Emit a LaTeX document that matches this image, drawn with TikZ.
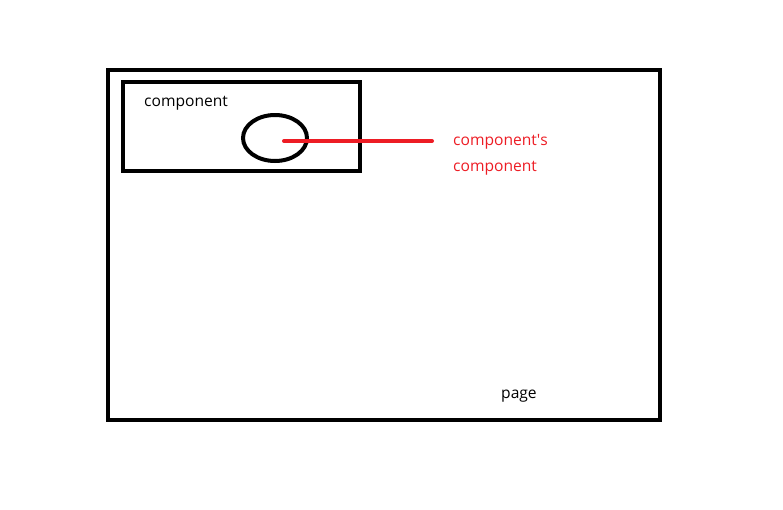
\documentclass[tikz,border=0pt]{standalone}
\usepackage{fontspec}
\setsansfont{Open Sans}
\usepackage{tikz}
\usetikzlibrary{shapes.geometric}
\definecolor{paintred}{HTML}{ED1C24}

\begin{document}
\begin{tikzpicture}[
  x=1pt, y=-1pt,
  font=\sffamily\fontsize{15.6}{26}\selectfont,
  frame/.style={rectangle, draw=black, line width=4pt, inner sep=0pt},
  blob/.style={ellipse, draw=black, line width=4pt, inner sep=0pt,
               minimum width=64pt, minimum height=46pt},
  lbl/.style={anchor=base west, inner sep=0pt, align=left},
  lead/.style={draw=paintred, line width=4pt, line cap=round}]
  \useasboundingbox (0,0) rectangle (783,509);
  \node[frame, minimum width=552.5pt, minimum height=350.5pt] (page) at (383.75,244.75) {};
  \node[frame, minimum width=236.5pt, minimum height=89pt] (comp) at (241.25,126) {};
  \node[blob] (sub) at (275,138) {};
  \node[lbl] (comptext) at (144,106.5) {component};
  \node[lbl] (pagetext) at (501,398.5) {page};
  \node[lbl, text=paintred] (subtext) at (453,171) {component\textquotesingle s\\component};
  \coordinate (root) at (284,141);
  \coordinate (tip) at (432,141);
  \draw[lead] (root) -- (tip);
\end{tikzpicture}
\end{document}
